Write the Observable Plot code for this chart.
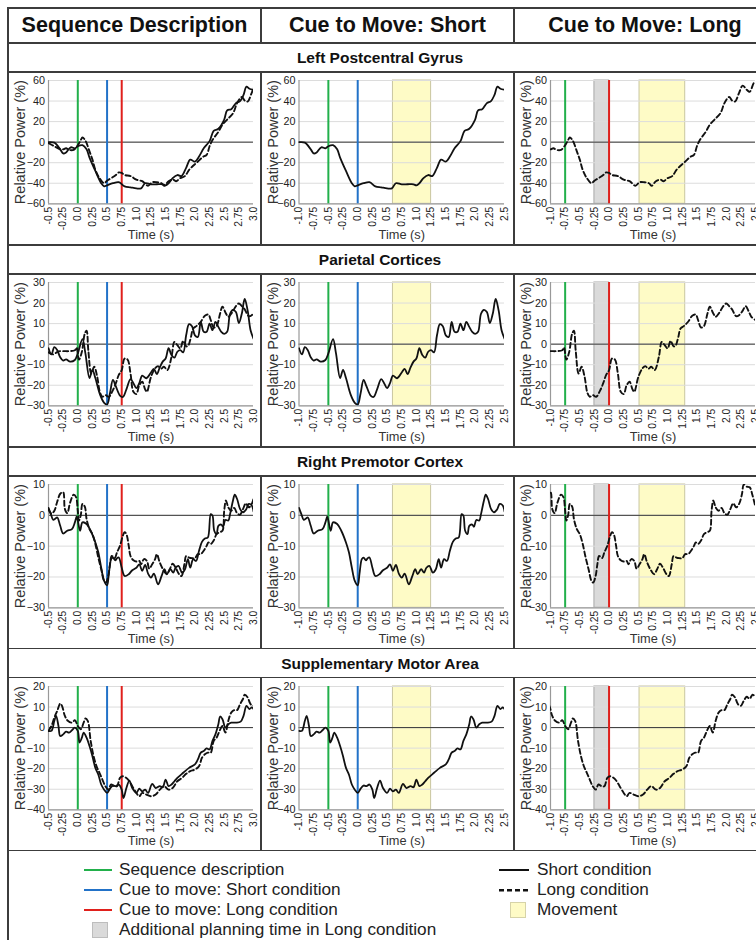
<!DOCTYPE html>
<html><head><meta charset="utf-8">
<script src="https://cdn.jsdelivr.net/npm/d3@7"></script>
<script src="https://cdn.jsdelivr.net/npm/@observablehq/plot@0.6"></script>
<style>
html,body{margin:0;padding:0;background:#fff;}
body{width:756px;height:940px;overflow:hidden;position:relative;font-family:"Liberation Sans",Arial,sans-serif;}
#fig{position:absolute;left:0;top:0;width:756px;height:940px;overflow:hidden;}
.ln{position:absolute;background:#3c3c3c;}
.ct{position:absolute;transform:translate(-50%,-50%);white-space:nowrap;line-height:1;color:#111;}
.lt{position:absolute;transform:translateY(-50%);white-space:nowrap;line-height:1;color:#222;font-size:17.2px;}
.panel{position:absolute;}
.panel svg{display:block;overflow:visible;}
</style>
</head><body><div id="fig"></div>
<script>
// ---------- DATA ----------
const columnTitles = ["Sequence Description", "Cue to Move: Short", "Cue to Move: Long"];
const regionNames = ["Left Postcentral Gyrus", "Parietal Cortices", "Right Premotor Cortex", "Supplementary Motor Area"];
const yDomains = [[-60, 60], [-30, 30], [-30, 10], [-40, 20]];
const yTicksList = [
  [-60, -40, -20, 0, 20, 40, 60],
  [-30, -20, -10, 0, 10, 20, 30],
  [-30, -20, -10, 0, 10],
  [-40, -30, -20, -10, 0, 10, 20]
];
const seqTicks = [-0.5, -0.25, 0, 0.25, 0.5, 0.75, 1, 1.25, 1.5, 1.75, 2, 2.25, 2.5, 2.75, 3];
const seqTickLabels = ["-0.5", "-0.25", "0.0", "0.25", "0.5", "0.75", "1.0", "1.25", "1.5", "1.75", "2.0", "2.25", "2.5", "2.75", "3.0"];
const cueTicks = [-1, -0.75, -0.5, -0.25, 0, 0.25, 0.5, 0.75, 1, 1.25, 1.5, 1.75, 2, 2.25, 2.5];
const cueTickLabels = ["-1.0", "-0.75", "-0.5", "-0.25", "0.0", "0.25", "0.5", "0.75", "1.0", "1.25", "1.5", "1.75", "2.0", "2.25", "2.5"];

// event times (s) relative to the sequence description
const cueShortAfterSeq = 0.5;
const cueLongAfterSeq = 0.75;
// intervals relative to the cue of each condition
const movementShort = [0.6, 1.25];
const movementLong = [0.52, 1.3];
const planningLong = [-0.25, 0];

// Short condition: [time from short cue (s), relative power (%)]
const lpgShort = [[-1.0,0],[-0.9,-0.5],[-0.8,-7],[-0.75,-11],[-0.7,-10],[-0.62,-5],[-0.55,-6],[-0.5,-4],[-0.42,-3],[-0.35,-7],[-0.3,-15],[-0.2,-28],[-0.1,-40],[-0.05,-43],[0,-42],[0.1,-40],[0.2,-39],[0.3,-43],[0.4,-44],[0.5,-45],[0.58,-45],[0.65,-40],[0.75,-41],[0.85,-41],[0.95,-41],[1.0,-42],[1.05,-40],[1.12,-35],[1.2,-32],[1.27,-33],[1.35,-25],[1.42,-17],[1.5,-19],[1.57,-14],[1.65,-6],[1.75,1],[1.82,11],[1.9,13],[2.0,22],[2.05,31],[2.12,32],[2.2,38],[2.27,40],[2.33,46],[2.38,54],[2.43,52],[2.5,51]];
const parShort = [[-1.0,-2],[-0.95,-5],[-0.9,-1.5],[-0.85,-3],[-0.8,-6.4],[-0.75,-8],[-0.7,-7.4],[-0.63,-8.5],[-0.55,-7.7],[-0.5,-4.5],[-0.42,2.4],[-0.37,-4.5],[-0.3,-16.5],[-0.25,-12.5],[-0.2,-16.5],[-0.12,-24.6],[-0.05,-28.6],[0,-29.4],[0.05,-23.8],[0.1,-17.4],[0.15,-20.6],[0.22,-25],[0.27,-25.7],[0.33,-22],[0.4,-17],[0.45,-19],[0.5,-21.4],[0.55,-19],[0.6,-15.3],[0.67,-16.6],[0.75,-13.8],[0.8,-12],[0.85,-14.6],[0.9,-11.3],[0.95,-8.5],[1.0,-7],[1.05,-2],[1.1,-5.3],[1.15,-6.6],[1.2,-3.7],[1.25,-2.9],[1.3,-4],[1.35,4.3],[1.4,9.7],[1.45,8.7],[1.5,4.3],[1.55,3.5],[1.6,10.8],[1.65,6],[1.7,6],[1.75,10],[1.8,6.8],[1.85,10.8],[1.9,8.4],[1.95,6],[2.0,5],[2.05,6],[2.1,14.8],[2.15,16.7],[2.2,15.6],[2.25,10.3],[2.3,14.8],[2.35,22],[2.4,16.4],[2.45,6.8],[2.5,2.7]];
const rpmShort = [[-1.0,2.4],[-0.96,0.4],[-0.92,-1.5],[-0.88,-1],[-0.85,-0.7],[-0.8,-3.4],[-0.75,-5.9],[-0.68,-5],[-0.6,-4.5],[-0.55,-2.3],[-0.52,-0.4],[-0.5,-1.7],[-0.46,-5],[-0.42,-2.3],[-0.35,-2.8],[-0.28,-5],[-0.2,-8.8],[-0.15,-12],[-0.1,-17],[-0.05,-21.3],[0,-22.7],[0.03,-19],[0.07,-14.2],[0.1,-13.7],[0.14,-14.6],[0.17,-13.9],[0.2,-13.7],[0.25,-17],[0.3,-19.7],[0.37,-19.1],[0.43,-17.8],[0.5,-17],[0.55,-15.9],[0.6,-18],[0.65,-16.1],[0.7,-18.9],[0.75,-20.2],[0.8,-18.9],[0.87,-22.4],[0.93,-19.7],[0.98,-17.5],[1.02,-19.1],[1.08,-17.5],[1.13,-18.6],[1.17,-17],[1.22,-16.4],[1.28,-18.6],[1.33,-17.5],[1.38,-14.2],[1.42,-17],[1.47,-14.2],[1.52,-14.8],[1.57,-11.5],[1.62,-8.6],[1.67,-7.5],[1.72,-7.2],[1.77,0.4],[1.8,-0.1],[1.83,-5],[1.87,-6.1],[1.9,-3.4],[1.95,-3],[1.98,-3.7],[2.02,-1.5],[2.07,-1.7],[2.1,0.4],[2.15,4.8],[2.18,6.7],[2.22,5.3],[2.27,2.1],[2.32,1],[2.37,1.8],[2.42,3.7],[2.47,3.2],[2.5,1.3]];
const smaShort = [[-1.0,-1.6],[-0.95,-1.6],[-0.9,3.3],[-0.87,5.7],[-0.83,0.8],[-0.8,-4.1],[-0.75,-3.3],[-0.7,-2],[-0.65,-2.4],[-0.6,-1.3],[-0.55,0],[-0.5,-1.6],[-0.47,-7.3],[-0.43,-4.9],[-0.4,-2.4],[-0.35,-4.9],[-0.3,-9],[-0.25,-13.9],[-0.2,-19.6],[-0.15,-22.8],[-0.1,-27.7],[-0.05,-30.2],[0,-31.8],[0.05,-29.7],[0.1,-28.2],[0.15,-28.5],[0.2,-27.7],[0.25,-30.2],[0.28,-34.3],[0.33,-29.4],[0.38,-25.8],[0.43,-29.4],[0.5,-31.8],[0.55,-29.7],[0.6,-31],[0.65,-30.2],[0.7,-31.8],[0.77,-27.4],[0.83,-29.4],[0.9,-28.5],[0.95,-29],[1.0,-25.3],[1.05,-28.5],[1.1,-27.7],[1.15,-26.1],[1.2,-24.5],[1.3,-22],[1.4,-19.6],[1.5,-17.9],[1.55,-15.5],[1.6,-12.2],[1.65,-11.4],[1.7,-10.1],[1.75,-10.6],[1.8,-6.5],[1.85,-3.3],[1.9,1.6],[1.93,5.4],[1.97,4.1],[2.02,0],[2.07,1.6],[2.12,2.4],[2.2,2.4],[2.28,2.9],[2.33,5.7],[2.38,10.6],[2.43,9],[2.47,9.8],[2.5,9]];

// Long condition: [time from long cue (s), relative power (%)]
const lpgLong = [[-1.25,-1],[-1.15,-4],[-1.05,-7],[-1.0,-7],[-0.95,-6],[-0.9,-7.5],[-0.82,-7.5],[-0.75,-3],[-0.7,2],[-0.67,4.5],[-0.62,1.5],[-0.55,-9],[-0.5,-17],[-0.45,-27],[-0.38,-35],[-0.3,-40],[-0.25,-37.5],[-0.15,-34],[-0.1,-32],[-0.05,-29.5],[0,-30],[0.05,-32],[0.15,-33],[0.25,-36.5],[0.35,-38],[0.45,-42.5],[0.52,-39],[0.6,-39],[0.68,-40],[0.73,-42.5],[0.8,-38],[0.88,-36.5],[0.93,-38],[1.0,-35],[1.08,-33],[1.15,-27],[1.22,-23],[1.3,-19],[1.38,-14.6],[1.45,-12.3],[1.5,-4],[1.55,2],[1.65,10],[1.72,17],[1.8,22],[1.9,28],[1.97,38],[2.05,44],[2.1,40.5],[2.15,39.5],[2.22,48],[2.28,55],[2.35,51],[2.4,49],[2.47,57.5],[2.5,59]];
const parLong = [[-1.25,-4],[-1.17,-5],[-1.08,-3.5],[-1.0,-3.4],[-0.9,-3.4],[-0.8,-3],[-0.77,-1.6],[-0.73,-7.5],[-0.68,-3.7],[-0.63,5.2],[-0.6,6.5],[-0.57,-3],[-0.52,-14.3],[-0.47,-11],[-0.42,-15.6],[-0.37,-23.7],[-0.33,-25.6],[-0.28,-24.8],[-0.22,-25.6],[-0.15,-22.4],[-0.1,-19],[-0.05,-15],[0,-12.6],[0.05,-7],[0.1,-7.5],[0.15,-14.3],[0.2,-23.2],[0.25,-24.3],[0.3,-20],[0.35,-18.3],[0.4,-22],[0.43,-23.2],[0.5,-15.9],[0.57,-11.8],[0.62,-10.7],[0.67,-12],[0.72,-11],[0.78,-12.6],[0.85,-6.2],[0.9,1.1],[0.95,-0.5],[1.0,-2.1],[1.05,1.6],[1.1,-1],[1.13,-1],[1.18,3.2],[1.22,7.6],[1.28,8.9],[1.35,10.9],[1.42,13.8],[1.48,14.4],[1.52,11.7],[1.57,8.1],[1.62,8.8],[1.68,14.9],[1.72,18.2],[1.78,14.9],[1.82,13.3],[1.88,15.2],[1.95,18.5],[2.0,19.8],[2.05,18.5],[2.1,16.9],[2.17,13.6],[2.22,14.1],[2.28,16.2],[2.33,18.5],[2.38,16.2],[2.43,13.3],[2.5,11.7]];
const rpmLong = [[-1.25,2],[-1.2,0.5],[-1.15,1.5],[-1.1,4.5],[-1.05,7],[-1.0,7.5],[-0.97,2],[-0.93,0.7],[-0.88,4.2],[-0.82,6.7],[-0.78,5.9],[-0.75,1.5],[-0.73,-1.7],[-0.7,-0.1],[-0.67,3.7],[-0.63,2.8],[-0.6,-1.2],[-0.55,-4.5],[-0.5,-6.1],[-0.45,-9.3],[-0.4,-13.7],[-0.35,-17.5],[-0.3,-21.3],[-0.27,-21.8],[-0.23,-19.7],[-0.2,-15.9],[-0.17,-13.2],[-0.12,-13.9],[-0.08,-12],[-0.03,-9.9],[0.02,-6.6],[0.05,-5.5],[0.08,-6.1],[0.12,-9.9],[0.15,-13.2],[0.2,-14.6],[0.25,-15],[0.3,-14.8],[0.33,-15.9],[0.38,-14.2],[0.43,-14.8],[0.47,-17.3],[0.52,-15.9],[0.57,-14.2],[0.6,-12.6],[0.65,-15.3],[0.72,-18],[0.77,-19.1],[0.82,-17.5],[0.87,-15.7],[0.92,-17],[0.98,-19.1],[1.02,-19.7],[1.07,-15.9],[1.1,-13.2],[1.15,-13.7],[1.2,-13.9],[1.25,-13.9],[1.3,-12.6],[1.35,-12.6],[1.4,-11.5],[1.45,-9.9],[1.48,-8.8],[1.52,-9.3],[1.57,-8.2],[1.62,-6.1],[1.67,-5.5],[1.72,-5],[1.75,1.5],[1.78,4.8],[1.82,2.6],[1.87,1.5],[1.92,2.4],[1.97,0.7],[2.02,0.2],[2.07,2],[2.12,3.9],[2.17,2.6],[2.22,3.7],[2.27,7],[2.3,10],[2.35,9.3],[2.4,9.1],[2.45,6.4],[2.5,2.6]];
const smaLong = [[-1.25,-1.6],[-1.2,0.8],[-1.15,4.9],[-1.1,8.2],[-1.05,11.7],[-1.02,10.6],[-0.97,5.7],[-0.92,3.3],[-0.85,2.4],[-0.8,3.6],[-0.75,0.8],[-0.7,-0.8],[-0.65,2.4],[-0.62,4.4],[-0.58,3.3],[-0.53,-6.5],[-0.48,-13.9],[-0.43,-18.8],[-0.38,-22],[-0.33,-25.3],[-0.28,-28.5],[-0.23,-30.2],[-0.18,-27.7],[-0.13,-28.5],[-0.08,-28.5],[-0.03,-24.5],[0.02,-23.7],[0.08,-24.5],[0.13,-26.1],[0.18,-28.5],[0.25,-31.8],[0.3,-33.4],[0.35,-31.8],[0.42,-32.6],[0.5,-33.4],[0.58,-32.6],[0.65,-30.2],[0.72,-28.5],[0.8,-30.2],[0.87,-29.4],[0.95,-26.1],[1.03,-24.5],[1.1,-22.5],[1.17,-21.2],[1.25,-20.4],[1.32,-18.8],[1.37,-14.7],[1.42,-13],[1.47,-12.2],[1.52,-12.2],[1.57,-6.5],[1.62,-4.9],[1.67,-1.6],[1.72,0.8],[1.77,-2.4],[1.82,3.3],[1.87,7.3],[1.92,8.5],[1.97,8.5],[2.02,11.4],[2.07,13.9],[2.1,16],[2.15,14.7],[2.2,11.4],[2.25,10.6],[2.3,13],[2.35,15],[2.4,14],[2.45,16],[2.5,15]];

const shortSeries = [lpgShort, parShort, rpmShort, smaShort];
const longSeries = [lpgLong, parLong, rpmLong, smaLong];

const legendLeft = ["Sequence description", "Cue to move: Short condition", "Cue to move: Long condition", "Additional planning time in Long condition"];
const legendRight = ["Short condition", "Long condition", "Movement"];

// ---------- STYLE / LAYOUT ----------
const GREEN = "#22b04b", BLUE = "#2272c8", RED = "#e0201c";
const YELLOW = "#fefbc6", GREYBOX = "#dadada";
const ROW0 = 43, ROWSTEP = 201.9, TITLEH = 29;
const colLeft = [8, 261, 514], colWidth = [253, 253, 246];
const colML = [40, 37.5, 36], colMR = [8, 10, 5];
const yLabelDx = [-28, -26, -24.5];
const fig = document.getElementById("fig");

function box(x, y, w, h, cls, css) {
  const d = document.createElement("div");
  d.className = cls || "ln";
  Object.assign(d.style, {left: x + "px", top: y + "px", width: w + "px", height: h + "px"}, css || {});
  fig.appendChild(d);
  return d;
}
function txt(s, x, y, cls, css) {
  const d = document.createElement("div");
  d.className = cls; d.textContent = s;
  Object.assign(d.style, {left: x + "px", top: y + "px"}, css || {});
  fig.appendChild(d);
  return d;
}

// table lines
const LW = 1.5;
box(7, 7.25, 760, LW);
box(7.25, 7.25, LW, 940);
box(8, ROW0 - 0.75, 760, LW);
[261, 514].forEach(x => box(x - 0.75, 8, LW, ROW0 - 8));
for (let r = 0; r < 4; r++) {
  const t = ROW0 + r * ROWSTEP;
  box(8, t - 0.75, 760, LW);
  box(8, t + TITLEH - 0.75, 760, LW);
  [261, 514].forEach(x => box(x - 0.75, t + TITLEH, LW, ROWSTEP - TITLEH));
}
box(8, ROW0 + 4 * ROWSTEP - 0.75, 760, LW);

// headers
const headerX = [134.5, 387.5, 645];
columnTitles.forEach((s, i) => txt(s, headerX[i], 26, "ct", {fontSize: "21.5px", fontWeight: "bold"}));
regionNames.forEach((s, r) => txt(s, 380, ROW0 + r * ROWSTEP + TITLEH / 2 + 0.5, "ct", {fontSize: "15.5px", fontWeight: "bold"}));

// panels
function panel(r, c) {
  const yd = yDomains[r], yt = yTicksList[r];
  const isSeq = c === 0;
  const ticks = isSeq ? seqTicks : cueTicks;
  const labels = isSeq ? seqTickLabels : cueTickLabels;
  const labelMap = new Map(ticks.map((t, i) => [t, labels[i]]));
  const xd = [ticks[0], ticks[ticks.length - 1]];
  const marks = [];
  const band = (iv, fill, stroke) => Plot.rect([iv], {x1: d => d[0], x2: d => d[1], y1: () => yd[0], y2: () => yd[1], fill, stroke, strokeWidth: 1});
  if (c === 1) marks.push(band(movementShort, YELLOW, "#c9c6a0"));
  if (c === 2) {
    marks.push(band(planningLong, GREYBOX, "#a8a8a8"));
    marks.push(band(movementLong, YELLOW, "#c9c6a0"));
  }
  marks.push(Plot.gridY(yt, {stroke: "#dcdcdc", strokeOpacity: 1, strokeWidth: 1}));
  marks.push(Plot.ruleY([0], {stroke: "#333", strokeWidth: 1}));
  marks.push(Plot.ruleX([xd[0]], {stroke: "#999", strokeWidth: 1.2}));
  marks.push(Plot.ruleY([yd[0]], {stroke: "#999", strokeWidth: 1.2}));
  let events;
  if (c === 0) events = [[0, GREEN], [cueShortAfterSeq, BLUE], [cueLongAfterSeq, RED]];
  else if (c === 1) events = [[-cueShortAfterSeq, GREEN], [0, BLUE]];
  else events = [[-cueLongAfterSeq, GREEN], [0, RED]];
  events.forEach(([t, col]) => marks.push(Plot.ruleX([t], {stroke: col, strokeWidth: 2})));
  if (c === 0 || c === 1) {
    const off = c === 0 ? cueShortAfterSeq : 0;
    marks.push(Plot.line(shortSeries[r], {x: d => d[0] + off, y: d => d[1], stroke: "#111", strokeWidth: 1.8, curve: "catmull-rom", clip: true}));
  }
  if (c === 0 || c === 2) {
    const off = c === 0 ? cueLongAfterSeq : 0;
    marks.push(Plot.line(longSeries[r], {x: d => d[0] + off, y: d => d[1], stroke: "#111", strokeWidth: 1.9, strokeDasharray: "5,3", curve: "catmull-rom", clip: true}));
  }
  marks.push(Plot.axisX(ticks, {tickRotate: -90, tickSize: 0, tickPadding: 3, tickFormat: d => labelMap.get(d), fontSize: 10.3, label: null}));
  marks.push(Plot.axisY(yt, {tickSize: 0, tickPadding: 3.5, fontSize: 10.8, label: null}));
  marks.push(Plot.text(["Relative Power (%)"], {frameAnchor: "left", textAnchor: "middle", lineAnchor: "middle", rotate: -90, dx: yLabelDx[c], fontSize: 14.5, fill: "#333"}));
  marks.push(Plot.text(["Time (s)"], {frameAnchor: "bottom", textAnchor: "middle", lineAnchor: "middle", dy: 31.5, fontSize: 12.8, fill: "#333"}));
  const h = ROWSTEP - TITLEH;
  const svg = Plot.plot({
    width: colWidth[c], height: h,
    marginLeft: colML[c], marginRight: colMR[c], marginTop: 8, marginBottom: h - 8 - 123.3,
    style: {fontFamily: "'Liberation Sans', Arial, sans-serif", color: "#222", background: "transparent", overflow: "visible"},
    x: {domain: xd, label: null},
    y: {domain: yd, label: null},
    marks
  });
  const holder = box(colLeft[c], ROW0 + r * ROWSTEP + TITLEH, colWidth[c], h, "panel");
  holder.appendChild(svg);
}
for (let r = 0; r < 4; r++) for (let c = 0; c < 3; c++) panel(r, c);

// legend
const legY = [870, 890, 910, 930];
const legColors = [GREEN, BLUE, RED];
legColors.forEach((col, i) => box(84, legY[i] - 1.25, 28, 2.5, "ln", {background: col}));
box(92, legY[3] - 8, 16, 16, "ln", {background: GREYBOX, border: "1px solid #bdbdbd", boxSizing: "border-box"});
legendLeft.forEach((s, i) => txt(s, 119, legY[i], "lt"));
box(499, legY[0] - 1.25, 30, 2.5, "ln", {background: "#111"});
const dash = box(499, legY[1] - 1.25, 30, 2.5, "ln", {background: "transparent"});
dash.innerHTML = '<svg width="30" height="3" style="display:block"><line x1="0" y1="1.25" x2="30" y2="1.25" stroke="#111" stroke-width="2.5" stroke-dasharray="5,3"/></svg>';
box(510, legY[2] - 8, 16, 16, "ln", {background: YELLOW, border: "1px solid #d6d3a8", boxSizing: "border-box"});
legendRight.forEach((s, i) => txt(s, 537, legY[i], "lt"));
</script>
</body></html>
